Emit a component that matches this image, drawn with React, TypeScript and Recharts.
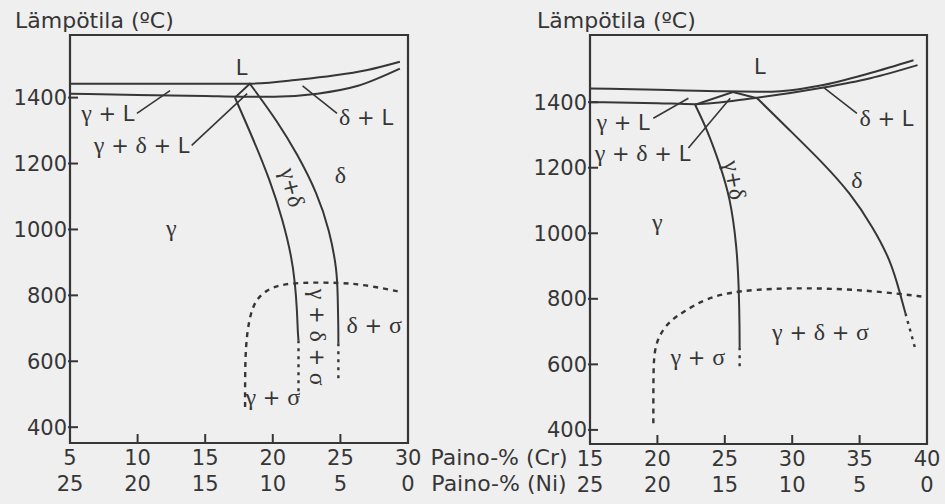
import React from 'react';
import { LineChart, Line, XAxis, YAxis, ReferenceArea, ReferenceLine, ReferenceDot } from 'recharts';

const INK = '#363636';
const BG = '#efefef';
const FONT = '"DejaVu Sans", "Liberation Sans", sans-serif';
const SERIF = '"Liberation Serif", "DejaVu Serif", serif';

// shared temperature ticks (°C)
const tempTicks = [400, 600, 800, 1000, 1200, 1400];

// ---- left diagram: Cr 5..30 %, Ni 25..0 %
const crTicksA = [5, 10, 15, 20, 25, 30];
const niTicksA = [25, 20, 15, 10, 5, 0];
const liquidusA = [[5, 1442], [10, 1442], [15, 1442], [18.1, 1442], [22, 1455], [24.5, 1467], [27, 1484], [29.4, 1509]];
const solidusA = [[5, 1412], [10, 1408], [15, 1405], [17.6, 1403], [20.1, 1403], [23.3, 1412], [26.3, 1436], [29.4, 1488]];
const triangleA = [[17.2, 1400], [18.3, 1442], [18.7, 1420]];
const gammaSolvusA = [[17.2, 1400], [18.5, 1279], [19.8, 1149], [20.75, 1027], [21.4, 915], [21.65, 836], [21.8, 750], [21.85, 685], [21.9, 664]];
const gammaSolvusDashA = [[21.9, 664], [21.9, 491]];
const deltaA = [[18.7, 1420], [20.3, 1330], [21.8, 1230], [23.3, 1109], [24.2, 997], [24.75, 876], [24.8, 800], [24.85, 700], [24.85, 655]];
const deltaDashA = [[24.85, 655], [24.85, 543]];
const sigmaA = [[17.95, 461], [17.95, 560], [18.0, 650], [18.25, 730], [18.7, 785], [19.5, 815], [20.5, 832], [22, 839], [25, 839], [27, 831], [29.6, 809]];

// ---- right diagram: Cr 15..40 %, Ni 25..0 %
const crTicksB = [15, 20, 25, 30, 35, 40];
const niTicksB = [25, 20, 15, 10, 5, 0];
const liquidusB = [[15, 1442], [20, 1438], [25, 1433], [28.5, 1432], [32, 1450], [35.8, 1489], [39, 1528]];
const solidusB = [[15, 1400], [20, 1397], [22.8, 1394], [27.1, 1412], [32.1, 1443], [35.8, 1473], [39.3, 1513]];
const triangleB = [[22.8, 1392], [25.6, 1431], [27.4, 1412]];
const gammaSolvusB = [[22.8, 1392], [23.7, 1315], [24.6, 1214], [25.4, 1110], [25.9, 957], [26.05, 826], [26.1, 700], [26.1, 652]];
const gammaSolvusDashB = [[26.1, 652], [26.1, 582]];
const deltaB = [[27.4, 1412], [29.8, 1315], [32.3, 1214], [34.3, 1123], [36.0, 1018], [37.3, 917], [38.0, 817], [38.4, 756]];
const deltaDashB = [[38.4, 756], [39.1, 652]];
const sigmaB = [[19.7, 420], [19.7, 560], [19.75, 643], [20.2, 695], [21.0, 735], [21.9, 759], [23.5, 800], [25.9, 826], [30.8, 835], [35.8, 826], [40, 805]];

// phase field labels: [text, Cr, T, rotation]
const labelsA: [string, number, number, number][] = [
  ['L', 17.7, 1491, 0],
  ['γ + L', 7.8, 1352, 0],
  ['γ + δ + L', 10.3, 1255, 0],
  ['δ + L', 26.9, 1339, 0],
  ['δ', 25.0, 1164, 0],
  ['γ+δ', 21.4, 1127, 76],
  ['γ', 12.5, 1003, 0],
  ['γ + δ + σ', 23.3, 673, 90],
  ['δ + σ', 27.5, 709, 0],
  ['γ + σ', 20.0, 491, 0],
];
const leadersA = [
  [[9.95, 1352], [12.4, 1421]],
  [[14.0, 1255], [18.1, 1412]],
  [[24.75, 1352], [22.2, 1436]],
];
const labelsB: [string, number, number, number][] = [
  ['L', 27.6, 1507, 0],
  ['γ + L', 17.45, 1339, 0],
  ['γ + δ + L', 18.9, 1244, 0],
  ['δ + L', 37.0, 1351, 0],
  ['δ', 34.8, 1162, 0],
  ['γ+δ', 25.7, 1162, 80],
  ['γ', 20.0, 1031, 0],
  ['γ + δ + σ', 32.1, 698, 0],
  ['γ + σ', 23.0, 621, 0],
];
const leadersB = [
  [[19.7, 1351], [22.3, 1412]],
  [[22.3, 1260], [25.4, 1412]],
  [[34.8, 1366], [32.3, 1446]],
];

const pts = (a: number[][]) => a.map(([x, t]) => ({ x, t }));

function rich(text: string) {
  return text.split('').map((c, i) =>
    /[γδσ]/.test(c) ? (
      <tspan key={i} fontFamily={SERIF} fontSize={24}>{c}</tspan>
    ) : (
      <tspan key={i}>{c}</tspan>
    )
  );
}

function makeXTick(ni: number[]) {
  return (p: any) => {
    const { x, y, index, payload } = p;
    const edge = index === 0 || index === ni.length - 1;
    return (
      <g>
        {!edge && <line x1={x} y1={y} x2={x} y2={y - 9} stroke={INK} strokeWidth={2} />}
        <text x={x} y={y + 22} textAnchor="middle" fontSize={21} fontFamily={FONT} fill={INK}>
          {payload.value}
        </text>
        <text x={x} y={y + 48} textAnchor="middle" fontSize={21} fontFamily={FONT} fill={INK}>
          {ni[index]}
        </text>
      </g>
    );
  };
}

const YTick = (p: any) => (
  <g>
    <line x1={p.x - 2} y1={p.y} x2={p.x + 8} y2={p.y} stroke={INK} strokeWidth={2} />
    <text x={p.x - 3} y={p.y} dy="0.36em" textAnchor="end" fontSize={21} fontFamily={FONT} fill={INK}>
      {p.payload.value}
    </text>
  </g>
);

interface PanelProps {
  left: number;
  width: number;
  margin: { top: number; right: number; bottom: number; left: number };
  xDomain: [number, number];
  yDomain: [number, number];
  crTicks: number[];
  niTicks: number[];
  solid: number[][][];
  dashed: number[][][];
  sigma: number[][];
  labels: [string, number, number, number][];
  leaders: number[][][];
}

function Panel(props: PanelProps) {
  const { xDomain, yDomain } = props;
  return (
    <div style={{ position: 'absolute', left: props.left, top: 0 }}>
      <LineChart width={props.width} height={504} margin={props.margin}>
        <XAxis
          type="number"
          dataKey="x"
          domain={xDomain}
          ticks={props.crTicks}
          interval={0}
          tickSize={0}
          tickMargin={0}
          height={50}
          axisLine={false}
          tickLine={false}
          tick={makeXTick(props.niTicks)}
        />
        <YAxis
          type="number"
          dataKey="t"
          domain={yDomain}
          ticks={tempTicks}
          interval={0}
          tickSize={0}
          tickMargin={0}
          width={60}
          axisLine={false}
          tickLine={false}
          tick={YTick}
        />
        <ReferenceArea
          x1={xDomain[0]}
          x2={xDomain[1]}
          y1={yDomain[0]}
          y2={yDomain[1]}
          fill="none"
          stroke={INK}
          strokeWidth={2.2}
          ifOverflow="visible"
        />
        {props.leaders.map((s, i) => (
          <ReferenceLine
            key={'ld' + i}
            segment={[{ x: s[0][0], y: s[0][1] }, { x: s[1][0], y: s[1][1] }]}
            stroke={INK}
            strokeWidth={1.6}
          />
        ))}
        {props.solid.map((d, i) => (
          <Line
            key={'s' + i}
            data={pts(d)}
            dataKey="t"
            type={i < 2 ? 'monotone' : i === 2 ? 'linear' : 'basis'}
            stroke={INK}
            strokeWidth={2}
            dot={false}
            activeDot={false}
            isAnimationActive={false}
          />
        ))}
        {props.dashed.map((d, i) => (
          <Line
            key={'d' + i}
            data={pts(d)}
            dataKey="t"
            type="linear"
            stroke={INK}
            strokeWidth={2.4}
            strokeDasharray="3 5"
            dot={false}
            activeDot={false}
            isAnimationActive={false}
          />
        ))}
        <Line
          data={pts(props.sigma)}
          dataKey="t"
          type="basis"
          stroke={INK}
          strokeWidth={2.4}
          strokeDasharray="5 5"
          dot={false}
          activeDot={false}
          isAnimationActive={false}
        />
        {props.labels.map(([text, x, t, rot], i) => (
          <ReferenceDot
            key={'lb' + i}
            x={x}
            y={t}
            r={0}
            shape={(p: any) => (
              <text
                x={p.cx}
                y={p.cy}
                dy="0.35em"
                textAnchor="middle"
                fontSize={21}
                fontFamily={FONT}
                fill={INK}
                transform={rot ? `rotate(${rot} ${p.cx} ${p.cy})` : undefined}
              >
                {rich(text)}
              </text>
            )}
          />
        ))}
      </LineChart>
    </div>
  );
}

export default function App() {
  return (
    <div style={{ position: 'absolute', left: 0, top: 0, width: 945, height: 504, background: BG, overflow: 'hidden' }}>
      <Panel
        left={0}
        width={470}
        margin={{ top: 35, right: 62, bottom: 11, left: 10 }}
        xDomain={[5, 30]}
        yDomain={[352, 1590]}
        crTicks={crTicksA}
        niTicks={niTicksA}
        solid={[liquidusA, solidusA, triangleA, gammaSolvusA, deltaA]}
        dashed={[gammaSolvusDashA, deltaDashA]}
        sigma={sigmaA}
        labels={labelsA}
        leaders={leadersA}
      />
      <Panel
        left={470}
        width={475}
        margin={{ top: 35, right: 18, bottom: 10, left: 60 }}
        xDomain={[15, 40]}
        yDomain={[357, 1605]}
        crTicks={crTicksB}
        niTicks={niTicksB}
        solid={[liquidusB, solidusB, triangleB, gammaSolvusB, deltaB]}
        dashed={[gammaSolvusDashB, deltaDashB]}
        sigma={sigmaB}
        labels={labelsB}
        leaders={leadersB}
      />
      <svg width={945} height={504} style={{ position: 'absolute', left: 0, top: 0, pointerEvents: 'none' }}>
        <g fontFamily={FONT} fill={INK} fontSize={22}>
          <text x={15} y={28}>Lämpötila (ºC)</text>
          <text x={537} y={28}>Lämpötila (ºC)</text>
          <text x={499} y={465} textAnchor="middle">Paino-% (Cr)</text>
          <text x={499} y={491} textAnchor="middle">Paino-% (Ni)</text>
        </g>
      </svg>
    </div>
  );
}
